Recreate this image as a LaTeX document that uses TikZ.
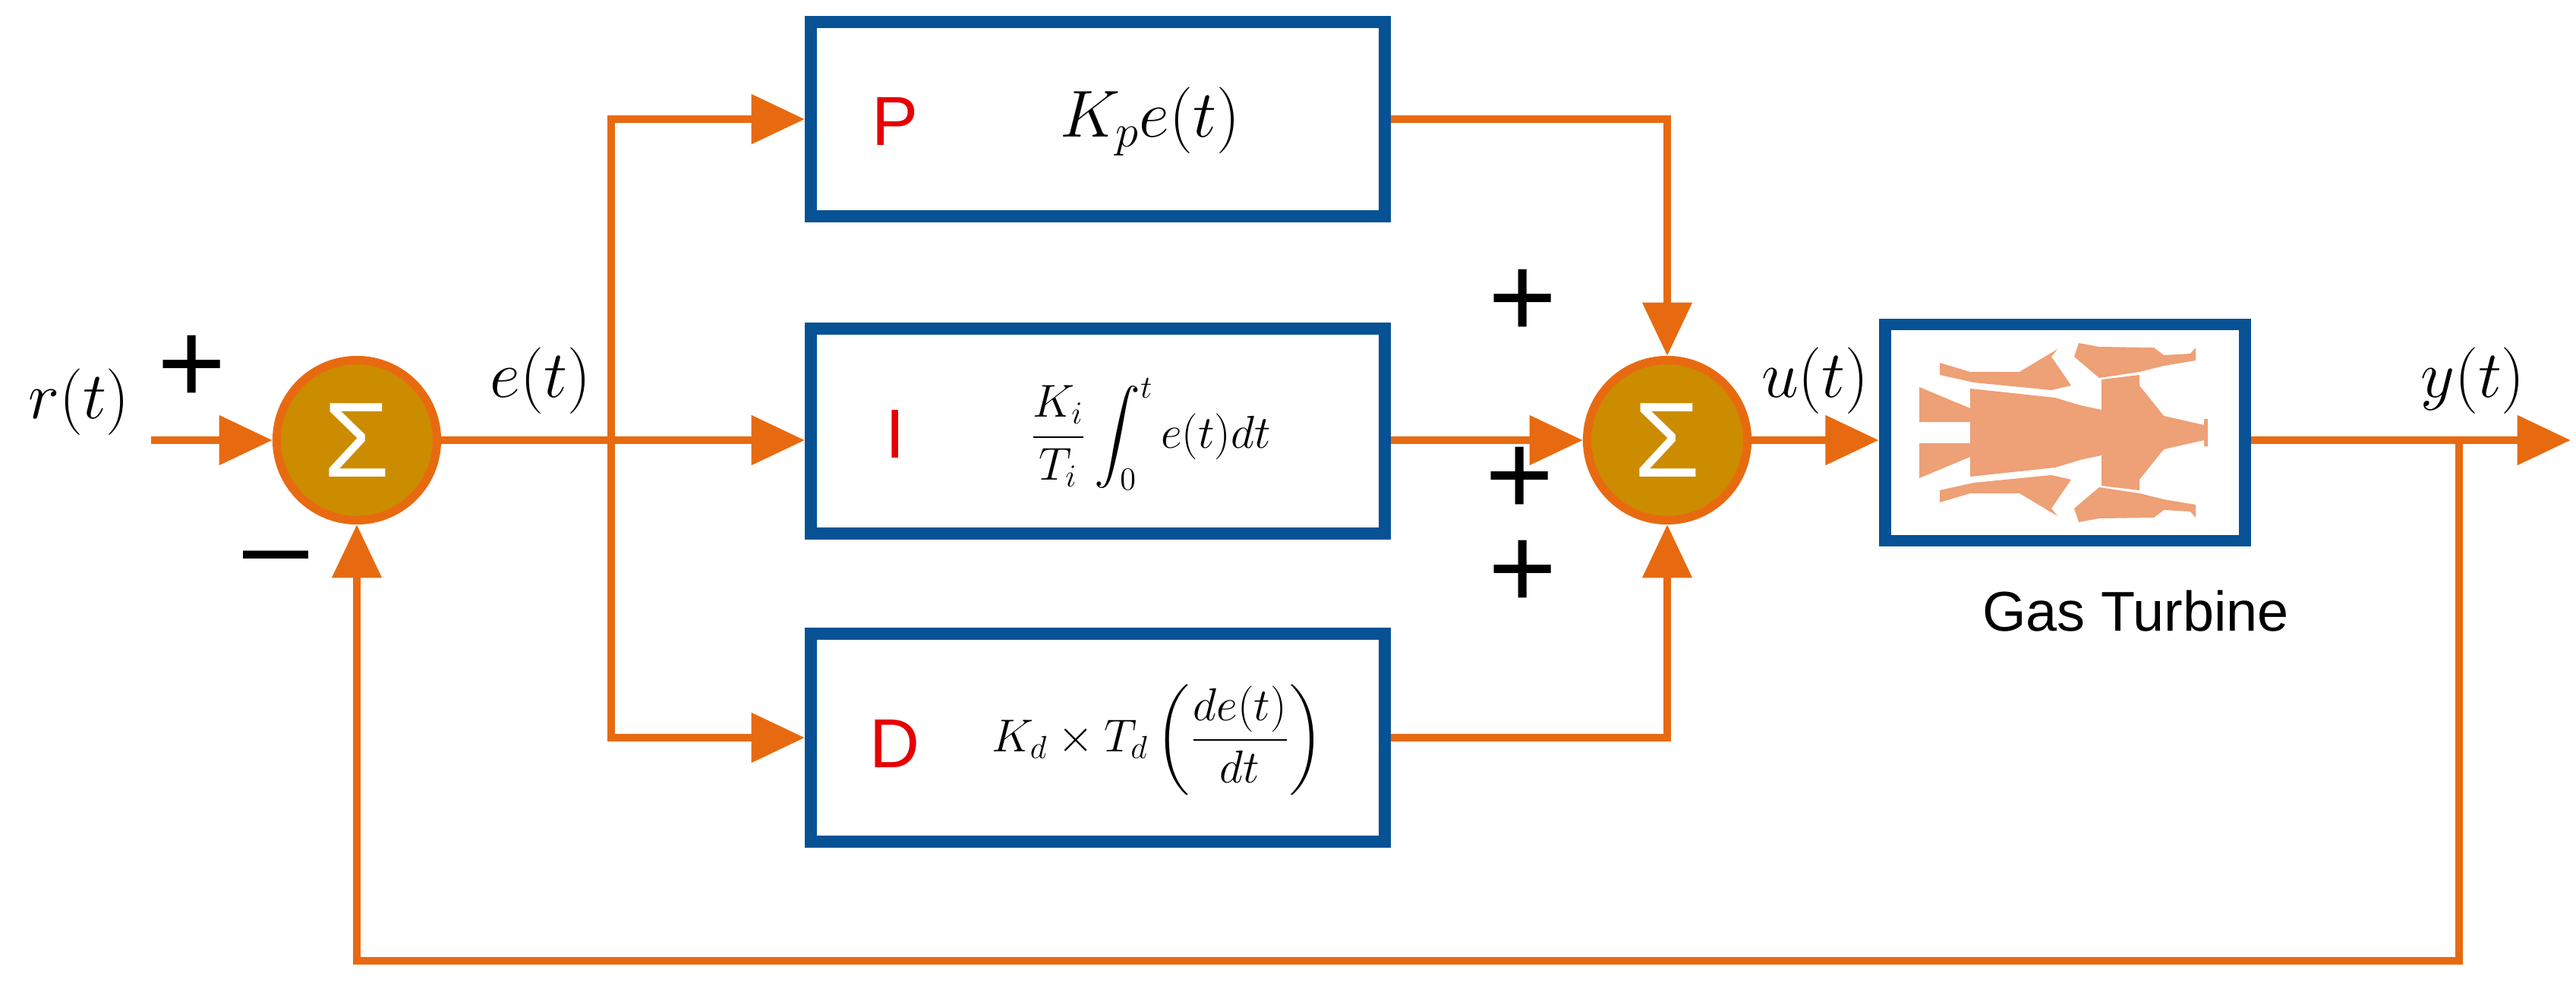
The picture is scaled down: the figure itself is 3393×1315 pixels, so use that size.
\documentclass[tikz,border=0pt]{standalone}
\usepackage{fontspec}
\setmainfont{Liberation Sans}
\usepackage{amsmath}
\usetikzlibrary{arrows.meta}
\definecolor{col_orange}{RGB}{232,106,16}
\definecolor{col_blue}{RGB}{6,82,148}
\definecolor{col_sum}{RGB}{204,140,0}
\definecolor{col_turb}{RGB}{238,160,118}
\definecolor{col_red}{RGB}{230,0,0}
\tikzset{
  wire/.style={col_orange, line width=3pt},
  sig/.style={wire, -{Triangle[length=20pt,width=18pt]}},
  blk/.style={draw=col_blue, line width=4.5pt, fill=white, rectangle, inner sep=0pt},
  sumnode/.style={circle, draw=col_orange, line width=3.2pt, fill=col_sum, minimum size=60pt, text=white, font=\fontsize{40}{40}\selectfont},
  lbl/.style={font=\fontsize{30}{32}\selectfont},
  sgn/.style={font=\fontsize{44}{44}\selectfont},
  pid/.style={text=col_red, font=\fontsize{26}{28}\selectfont},
}
\newcommand{\turbhalf}{%
\fill[col_turb] (-192,-60) -- (-125,-32) -- (-125,-58) -- (-13,-46) -- (20,-36) -- (48,-30) -- (48,-70) -- (98,-76) -- (98,-62) -- (130,-22) -- (183,-10) -- (183,-18) -- (188,-18) -- (188,1) -- (-125,1) -- (-125,-14) -- (-192,-14) -- cycle;
\fill[col_turb] (-165,-92) -- (-165,-76) -- (-120,-66) -- (-18,-56) -- (8,-62) -- (-18,-100) -- (-10,-110) -- (-60,-80) -- (-125,-80) -- cycle;
\fill[col_turb] (12,-100) -- (45,-72) -- (98,-80) -- (130,-88) -- (172,-95) -- (172,-112) -- (165,-104) -- (130,-102) -- (117,-112) -- (45,-113) -- (18,-118) -- cycle;
}
\begin{document}
\begin{tikzpicture}[x=0.01cm, y=-0.01cm]
\useasboundingbox (0,0) rectangle (3393,1315);
% summing junctions
\node[sumnode] (s1) at (470,580) {Σ};
\node[sumnode] (s2) at (2196,580) {Σ};
% controller blocks
\node[blk, minimum width=215pt, minimum height=73pt] (bp) at (1446,157) {};
\node[blk, minimum width=215pt, minimum height=77pt] (bi) at (1446,568) {};
\node[blk, minimum width=215pt, minimum height=78pt] (bd) at (1446,972) {};
\node[blk, minimum width=135pt, minimum height=81pt] (gt) at (2720,570) {};
\node[pid] at (1179,160) {P};
\node[pid] at (1179,572) {I};
\node[pid] at (1179,980) {D};
\node[font=\fontsize{24}{26}\selectfont] at (1515,160) {$K_pe(t)$};
\node[font=\fontsize{17}{20}\selectfont] at (1515,572) {$\dfrac{K_i}{T_i}\displaystyle\int_0^t e(t)dt$};
\node[font=\fontsize{17}{20}\selectfont] at (1525,975) {$K_d\times T_d\left(\dfrac{de(t)}{dt}\right)$};
% turbine drawing
\begin{scope}[shift={(2720,570)}]
\turbhalf
\begin{scope}[yscale=-1]\turbhalf\end{scope}
\end{scope}
% signals
\coordinate (rin) at (199,580);
\coordinate (br) at (805,580);
\coordinate (yout) at (3386,580);
\coordinate (fb) at (3239,580);
\draw[sig] (rin) -- (s1);
\draw[sig] (s1) -- (s1 -| bi.west);
\draw[sig] (br) |- (bp);
\draw[sig] (br) |- (bd);
\draw[sig] (bp.east) -| (s2);
\draw[sig] (s2 -| bi.east) -- (s2);
\draw[sig] (bd.east) -| (s2);
\draw[sig] (s2) -- (s2 -| gt.west);
\draw[sig] (s2 -| gt.east) -- (yout);
\draw[sig] (fb) -- ++(0,686) -| (s1);
% labels
\node[lbl] at (104,530) {$r(t)$};
\node[sgn] at (253,487) {+};
\node[lbl] at (712,502) {$e(t)$};
\node[sgn] at (364,748) {–};
\node[sgn] at (2006,400) {+};
\node[sgn] at (2002,634) {+};
\node[sgn] at (2006,757) {+};
\node[lbl] at (2391,502) {$u(t)$};
\node[lbl] at (3257,502) {$y(t)$};
\node[font=\fontsize{21}{24}\selectfont] at (2813,805) {Gas Turbine};
\end{tikzpicture}
\end{document}
